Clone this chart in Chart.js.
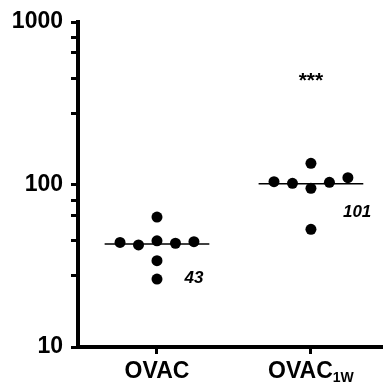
<!DOCTYPE html>
<html>
<head>
<meta charset="utf-8">
<script src="https://cdn.jsdelivr.net/npm/chart.js@4.4.0/dist/chart.umd.min.js"></script>
<style>
  body { margin: 0; background: #fff; }
  #wrap { width: 383px; height: 386px; }
</style>
</head>
<body>
<div id="wrap"><canvas id="dots" width="383" height="386"></canvas></div>
<script>
// groups on the x axis (main text + subscript)
const groups = ['OVAC', 'OVAC']
const groupSubs = ['', '1W']

// value and column slot of each dot
const ovacValues = [63, 44, 42.5, 45, 43.5, 44.5, 34, 26.2]
const ovacSlots = [0, -2, -1, 0, 1, 2, 0, 0]
const ovac1wValues = [135, 104, 101.7, 94.8, 103.2, 110.2, 53]
const ovac1wSlots = [0, -2, -1, 0, 1, 2, 0]

// median lines and their labels
const medians = [43, 101]
const medianLabels = ['43', '101']
const significance = ['', '***']

// y axis ticks
const yMajorTicks = [10, 100, 1000]
const yMinorTicks = [27.5, 45, 64.5, 80, 275, 450, 645, 800]

const FONT = "'Liberation Sans', Arial, sans-serif"
const slotStep = 0.12

function toPoints(values, slots, groupIndex) {
    return values.map((v, i) => ({ x: groupIndex + 1 + slots[i] * slotStep, y: v }))
}

function medianLine(i) {
    const c = i + 1
    return [{ x: c - 0.34, y: medians[i] }, { x: c + 0.34, y: medians[i] }]
}

const dotStyle = {
    pointRadius: 5.5,
    pointBackgroundColor: '#000',
    pointBorderWidth: 0,
    showLine: false
}
const lineStyle = {
    showLine: true,
    borderColor: '#000',
    borderWidth: 1.5,
    pointRadius: 0
}

// where the small texts sit (data coords)
const medianLabelPos = [{ x: 1.24, y: 26.6 }, { x: 2.3, y: 67.8 }]
const sigPos = [null, { x: 2, y: 470 }]

const textPlugin = {
    id: 'texts',
    afterDraw(chart) {
        const ctx = chart.ctx
        const xs = chart.scales.x
        const ys = chart.scales.y
        ctx.save()
        ctx.fillStyle = '#000'

        // x category labels with subscripts
        groups.forEach((g, i) => {
            const cx = xs.getPixelForValue(i + 1)
            ctx.font = 'bold 23px ' + FONT
            const w1 = ctx.measureText(g).width
            ctx.font = 'bold 14px ' + FONT
            const w2 = groupSubs[i] ? ctx.measureText(groupSubs[i]).width : 0
            const start = cx - (w1 + w2) / 2
            ctx.textAlign = 'left'
            ctx.textBaseline = 'alphabetic'
            ctx.font = 'bold 23px ' + FONT
            ctx.fillText(g, start, 378)
            if (groupSubs[i]) {
                ctx.font = 'bold 14px ' + FONT
                ctx.fillText(groupSubs[i], start + w1, 382)
            }
        })

        // median values
        ctx.font = 'italic bold 17px ' + FONT
        ctx.textAlign = 'center'
        ctx.textBaseline = 'middle'
        medianLabels.forEach((t, i) => {
            const p = medianLabelPos[i]
            ctx.fillText(t, xs.getPixelForValue(p.x), ys.getPixelForValue(p.y))
        })

        // significance stars
        ctx.font = 'bold 21px ' + FONT
        ctx.textBaseline = 'alphabetic'
        significance.forEach((t, i) => {
            if (!t) return
            const p = sigPos[i]
            ctx.fillText(t, xs.getPixelForValue(p.x), ys.getPixelForValue(p.y) + 12)
        })
        ctx.restore()
    }
}

const ctx = document.querySelector('#dots')
const dotsChart = new Chart(ctx, {
    type: 'scatter',
    data: {
        datasets: [
            { data: toPoints(ovacValues, ovacSlots, 0), ...dotStyle },
            { data: toPoints(ovac1wValues, ovac1wSlots, 1), ...dotStyle },
            { data: medianLine(0), ...lineStyle },
            { data: medianLine(1), ...lineStyle }
        ]
    },
    options: {
        responsive: false,
        animation: false,
        devicePixelRatio: 1,
        layout: { autoPadding: false, padding: { top: 22, right: 0, bottom: 0, left: 0 } },
        plugins: { legend: { display: false }, tooltip: { enabled: false } },
        scales: {
            x: {
                type: 'linear',
                min: 0.487,
                max: 2.468,
                afterBuildTicks: scale => { scale.ticks = groups.map((g, i) => ({ value: i + 1 })) },
                afterFit: scale => { scale.height = 39 },
                ticks: { display: false },
                grid: { drawOnChartArea: false, tickLength: 7, tickWidth: 3, tickColor: '#000' },
                border: { color: '#000', width: 4 }
            },
            y: {
                type: 'logarithmic',
                min: 10,
                max: 1000,
                afterBuildTicks: scale => {
                    scale.ticks = yMajorTicks.concat(yMinorTicks).sort((a, b) => a - b).map(v => ({ value: v }))
                },
                afterFit: scale => { scale.width = 78 },
                ticks: {
                    autoSkip: false,
                    padding: 8,
                    color: '#000',
                    font: { family: FONT, size: 23, weight: 'bold' },
                    callback: v => yMajorTicks.includes(v) ? String(v) : ''
                },
                grid: { drawOnChartArea: false, tickLength: 7, tickWidth: 3, tickColor: '#000' },
                border: { color: '#000', width: 4 }
            }
        }
    },
    plugins: [textPlugin]
})
</script>
</body>
</html>
